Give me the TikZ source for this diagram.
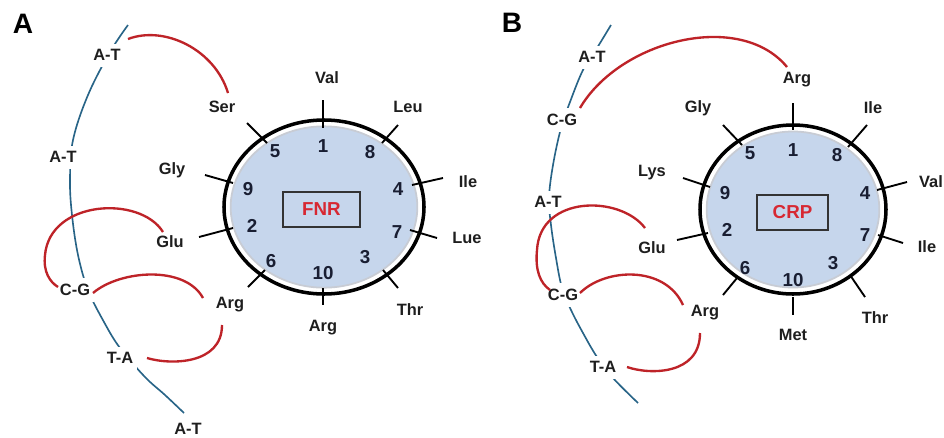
\documentclass[tikz,border=0pt]{standalone}
\usepackage{fontspec}
\setmainfont{Liberation Sans}
\definecolor{strandc}{RGB}{40,100,135}
\definecolor{redc}{RGB}{190,35,40}
\definecolor{fillc}{RGB}{198,214,236}
\definecolor{ringc}{RGB}{200,204,212}
\definecolor{textc}{RGB}{30,30,30}
\definecolor{numc}{RGB}{25,30,50}
\definecolor{namec}{RGB}{215,40,50}
\begin{document}
\begin{tikzpicture}[x=0.03cm,y=-0.03cm,
  panel/.style={font=\fontsize{24}{26}\selectfont\bfseries, text=black, inner sep=0pt},
  lbl/.style={font=\fontsize{14}{16}\selectfont\bfseries, text=textc, inner sep=1pt},
  bp/.style={font=\fontsize{14}{16}\selectfont\bfseries, text=textc, fill=white, inner xsep=3pt, inner ysep=5pt},
  num/.style={font=\fontsize{16}{18}\selectfont\bfseries, text=numc, inner sep=0pt},
  strand/.style={draw=strandc, line width=1.4pt},
  bond/.style={draw=redc, line width=2pt},
  tick/.style={draw=black, line width=1.6pt},
  outer/.style={draw=black, line width=3pt},
  inner/.style={fill=fillc, draw=ringc, line width=1.5pt},
  namebox/.style={draw=black!80, line width=1.2pt, fill=fillc, text=namec, font=\fontsize{16}{18}\selectfont\bfseries, minimum height=1.05cm}
]
\useasboundingbox (0,0) rectangle (944,437);
\fill[white] (0,0) rectangle (944,437);

% ================= Panel A =================
\node[panel] (pA) at (23,24) {A};
\draw[strand] plot[smooth, tension=0.6] coordinates {(128,25) (110,52) (88,95) (73,140) (70,180) (72,215) (78,255) (88,290) (104,322) (120,348) (145,377) (165,395) (184,413)};
\node[bp] (atA1) at (107,55) {A-T};
\node[bp] (atA2) at (63,157) {A-T};
\node[bp] (cgA) at (75,290) {C-G};
\node[bp] (taA) at (120,358) {T-A};
\node[lbl] (atA3) at (188,429) {A-T};

% wheel A
\fill[inner] (324,207) ellipse [x radius=2.8cm, y radius=2.42cm];
\draw[tick] (323,100) -- (323,128);
\draw[tick] (398,125) -- (382,143);
\draw[tick] (247,123) -- (267,143);
\draw[tick] (205,175) -- (233,183);
\draw[tick] (412,185) -- (443,178);
\draw[tick] (199,237) -- (233,228);
\draw[tick] (410,230) -- (437,238);
\draw[tick] (248,287) -- (265,270);
\draw[tick] (323,288) -- (323,305);
\draw[tick] (383,270) -- (398,288);
\draw[outer] (324,207) ellipse [x radius=3.0cm, y radius=2.61cm];
\node[namebox, minimum width=2.31cm] (fnr) at (321.5,209.5) {FNR};
\node[num] (nA1) at (323,146) {1};
\node[num] (nA8) at (370,152) {8};
\node[num] (nA5) at (275,151) {5};
\node[num] (nA9) at (248,189) {9};
\node[num] (nA4) at (398,189) {4};
\node[num] (nA2) at (252,226) {2};
\node[num] (nA7) at (397,232) {7};
\node[num] (nA6) at (271,261) {6};
\node[num] (nA3) at (365,257) {3};
\node[num] (nA10) at (323,273) {10};

\node[lbl] (valA) at (327,78) {Val};
\node[lbl] (leuA) at (408,107) {Leu};
\node[lbl] (serA) at (222,107) {Ser};
\node[lbl] (glyA) at (172,170) {Gly};
\node[lbl] (ileA) at (468,182) {Ile};
\node[lbl] (gluA) at (170,242) {Glu};
\node[lbl] (lueA) at (467,238) {Lue};
\node[lbl] (argA) at (230,305) {Arg};
\node[lbl] (argA2) at (323,328) {Arg};
\node[lbl] (thrA) at (410,310) {Thr};

\draw[bond] ([shift={(21,-16)}]atA1.center) .. controls (165,25) and (215,50) .. ([shift={(6,-14)}]serA.center);
\draw[bond] ([shift={(-7,-10)}]gluA.center) .. controls (140,195) and (50,200) .. (45,255) .. controls (43,272) and (50,282) .. ([shift={(-17,-3)}]cgA.center);
\draw[bond] ([shift={(18,3)}]cgA.center) .. controls (120,270) and (185,265) .. ([shift={(-27,-7)}]argA.center);
\draw[bond] ([shift={(-8,20)}]argA.center) .. controls (222,365) and (170,365) .. ([shift={(27,0)}]taA.center);

% ================= Panel B =================
\node[panel] (pB) at (512,23) {B};
\draw[strand] plot[smooth, tension=0.6] coordinates {(611,25) (597,48) (583,70) (570,102) (561,128) (553,165) (549,198) (551,225) (556,258) (562,288) (571,310) (583,333) (597,357) (613,378) (638,403)};
\node[bp] (atB1) at (592,57) {A-T};
\node[bp] (cgB1) at (562,120) {C-G};
\node[bp] (atB2) at (548,202) {A-T};
\node[bp] (cgB2) at (563,295) {C-G};
\node[bp] (taB) at (603,367) {T-A};

% wheel B
\fill[inner] (793,209.5) ellipse [x radius=2.59cm, y radius=2.34cm];
\draw[tick] (793,103) -- (793,130);
\draw[tick] (867,125) -- (848,147);
\draw[tick] (723,125) -- (742,145);
\draw[tick] (683,178) -- (710,187);
\draw[tick] (877,190) -- (907,182);
\draw[tick] (677,240) -- (708,233);
\draw[tick] (878,235) -- (903,243);
\draw[tick] (723,295) -- (737,278);
\draw[tick] (793,297) -- (793,315);
\draw[tick] (850,275) -- (865,297);
\draw[outer] (793,209.5) ellipse [x radius=2.79cm, y radius=2.535cm];
\node[namebox, minimum width=2.13cm] (crp) at (792.5,212.5) {CRP};
\node[num] (nB1) at (793,150) {1};
\node[num] (nB8) at (837,155) {8};
\node[num] (nB5) at (750,153) {5};
\node[num] (nB9) at (725,193) {9};
\node[num] (nB4) at (865,193) {4};
\node[num] (nB2) at (727,230) {2};
\node[num] (nB7) at (865,235) {7};
\node[num] (nB6) at (745,268) {6};
\node[num] (nB3) at (833,263) {3};
\node[num] (nB10) at (793,280) {10};

\node[lbl] (argB) at (797,80) {Arg};
\node[lbl] (glyB) at (698,108) {Gly};
\node[lbl] (ileB) at (873,108) {Ile};
\node[lbl] (lysB) at (652,173) {Lys};
\node[lbl] (valB) at (931,182) {Val};
\node[lbl] (gluB) at (652,248) {Glu};
\node[lbl] (ileB2) at (927,247) {Ile};
\node[lbl] (argB2) at (705,313) {Arg};
\node[lbl] (metB) at (793,335) {Met};
\node[lbl] (thrB) at (875,318) {Thr};

\draw[bond] ([shift={(18,-12)}]cgB1.center) .. controls (620,40) and (740,10) .. ([shift={(-10,-13)}]argB.center);
\draw[bond] ([shift={(-7,-20)}]gluB.center) .. controls (620,195) and (540,195) .. (537,250) .. controls (535,270) and (540,283) .. ([shift={(-13,-5)}]cgB2.center);
\draw[bond] ([shift={(17,-2)}]cgB2.center) .. controls (605,268) and (665,265) .. ([shift={(-22,-8)}]argB2.center);
\draw[bond] ([shift={(-5,20)}]argB2.center) .. controls (700,375) and (650,375) .. ([shift={(24,0)}]taB.center);
\end{tikzpicture}
\end{document}
